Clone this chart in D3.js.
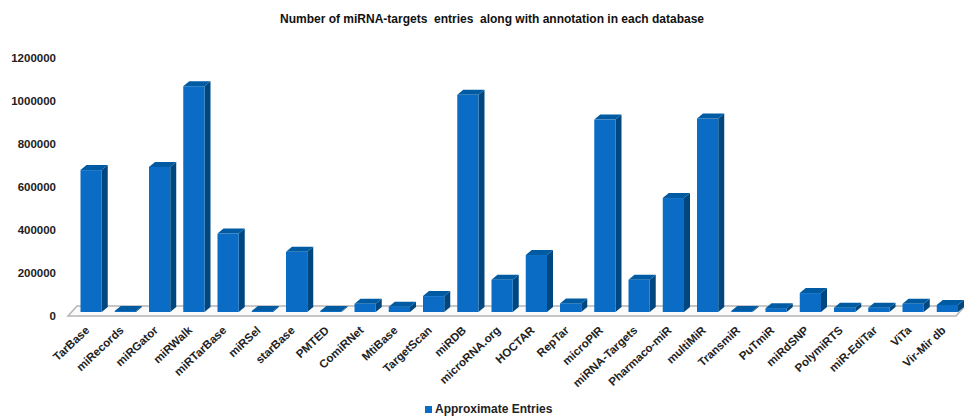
<!DOCTYPE html>
<html><head><meta charset="utf-8">
<script src="https://cdn.jsdelivr.net/npm/d3@7"></script>
<style>body{margin:0;background:#fff}svg{display:block;font-family:"Liberation Sans",Arial,sans-serif}</style>
</head><body><svg id="c" width="964" height="419"></svg>
<script>
const categories = ["TarBase","miRecords","miRGator","miRWalk","miRTarBase","miRSel","starBase","PMTED","ComiRNet","MtiBase","TargetScan","miRDB","microRNA.org","HOCTAR","RepTar","microPIR","miRNA-Targets","Pharmaco-miR","multiMiR","TransmiR","PuTmiR","miRdSNP","PolymiRTS","miR-EdiTar","ViTa","Vir-Mir db"];
const approximateEntries = [660000,3000,675000,1050000,365000,2500,280000,5000,38000,25000,74000,1010000,150000,265000,40000,895000,150000,530000,900000,2000,18000,88000,20000,20000,38000,33000];
const yTicks = [0,200000,400000,600000,800000,1000000,1200000];
const seriesName = "Approximate Entries";
const titleText = "Number of miRNA-targets  entries  along with annotation in each database";

const svg = d3.select("#c");
const front = "#0a6cc4", side = "#00477f", topC = "#005ba3";
const x = d3.scaleBand().domain(categories).range([74, 964.5]).paddingInner(0.38).paddingOuter(0.19);
const y = d3.scaleLinear().domain([0, 1200000]).range([317, 59]);
const bw = x.bandwidth();
const dx = 6, dy = -5, off = 5;

svg.append("text").attr("x", 492).attr("y", 20).attr("text-anchor", "middle")
  .attr("dominant-baseline", "middle").attr("font-size", 12).attr("font-weight", "bold")
  .attr("fill", "#111").style("white-space", "pre").text(titleText);

// floor
const fx0 = 68, fx1 = 956, fy = y(0) - 1, fdx = 9, fdy = -10;
svg.append("polygon")
  .attr("points", [[fx0, fy], [fx1, fy], [fx1 + fdx, fy + fdy], [fx0 + fdx, fy + fdy]].map(p => p.join(",")).join(" "))
  .attr("fill", "#fafafa").attr("stroke", "#b5b5b5").attr("stroke-width", 1.5);

// y labels
svg.append("g").selectAll("text").data(yTicks).join("text")
  .attr("x", 56).attr("y", d => y(d)).attr("text-anchor", "end").attr("dominant-baseline", "middle")
  .attr("font-size", 11.5).attr("font-weight", "bold").attr("fill", "#222").text(d => d);

// bars
const g = svg.append("g");
categories.forEach((c, i) => {
  const v = approximateEntries[i];
  const x0 = x(c), x1 = x0 + bw;
  const bottom = y(0) - off;
  const top = Math.min(y(v) - off, bottom - 1);
  const pts = a => a.map(p => p.join(",")).join(" ");
  g.append("polygon").attr("points", pts([[x1, top], [x1 + dx, top + dy], [x1 + dx, bottom + dy], [x1, bottom]])).attr("fill", side);
  g.append("rect").attr("x", x0).attr("y", top).attr("width", bw).attr("height", bottom - top).attr("fill", front);
  g.append("polygon").attr("points", pts([[x0, top], [x0 + dx, top + dy], [x1 + dx, top + dy], [x1, top]])).attr("fill", topC);
});

// x labels
svg.append("g").selectAll("text").data(categories).join("text")
  .attr("transform", d => `translate(${x(d) + bw / 2 - 3},${329}) rotate(-43)`)
  .attr("text-anchor", "end").attr("dominant-baseline", "middle")
  .attr("font-size", 11.5).attr("font-weight", "bold").attr("fill", "#222").text(d => d);

// legend
svg.append("rect").attr("x", 425).attr("y", 406).attr("width", 7).attr("height", 7).attr("fill", front);
svg.append("text").attr("x", 435).attr("y", 410).attr("dominant-baseline", "middle")
  .attr("font-size", 12).attr("font-weight", "bold").attr("fill", "#222").text(seriesName);
</script></body></html>
